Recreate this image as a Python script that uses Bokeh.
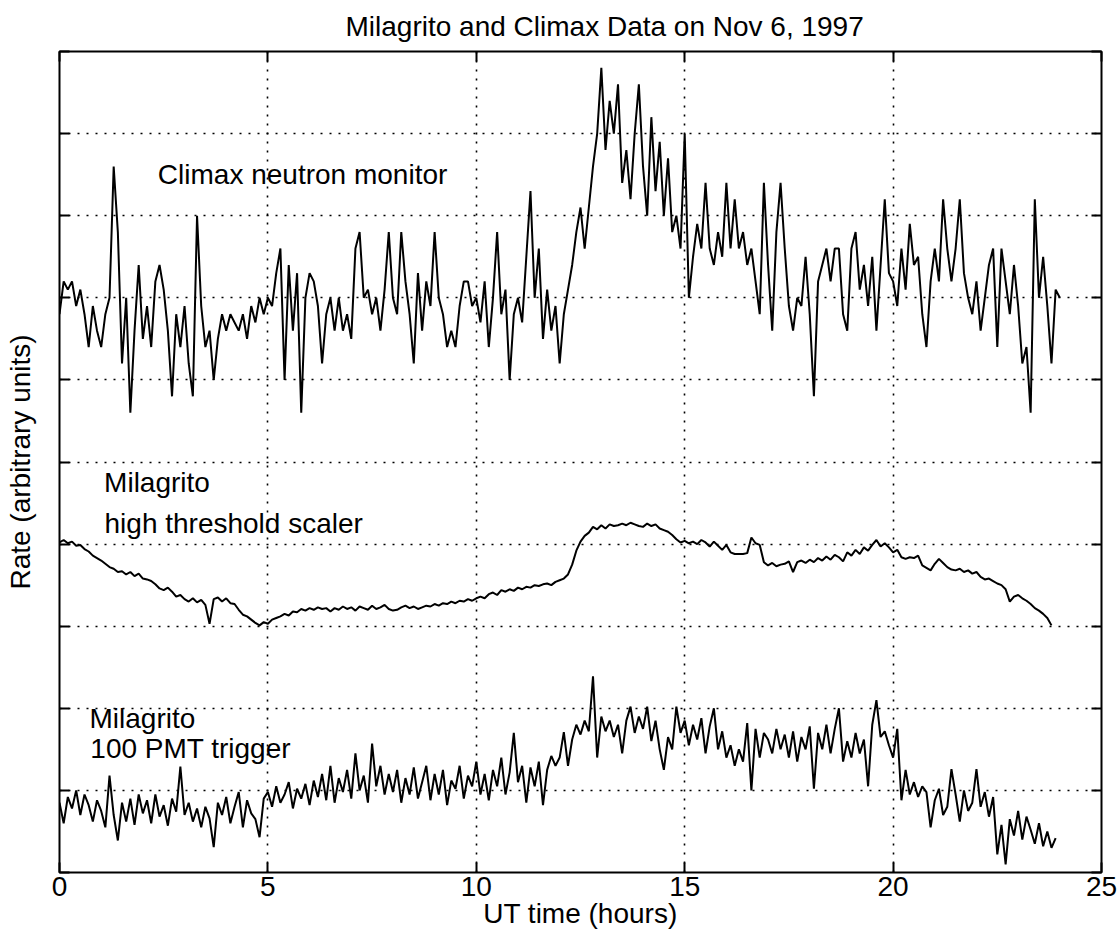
import numpy as np
from bokeh.plotting import figure
from bokeh.models import Range1d, FixedTicker, LinearAxis, Label, CustomLabelingPolicy
from bokeh.embed import file_html
from bokeh.resources import INLINE

# ---- data ----
STEP_H = 0.1  # sampling step of the series, hours

climax = [
    6.8, 7.2, 7.1, 7.2, 6.9, 7.1, 6.8, 6.4, 6.9, 6.6,
    6.4, 6.8, 7.0, 8.6, 7.8, 6.2, 7.0, 5.6, 6.6, 7.4,
    6.5, 6.9, 6.4, 7.2, 7.4, 7.1, 6.6, 5.8, 6.8, 6.4,
    6.9, 6.2, 5.8, 8.0, 6.9, 6.4, 6.6, 6.0, 6.5, 6.8,
    6.6, 6.8, 6.7, 6.6, 6.8, 6.5, 6.9, 6.7, 7.0, 6.8,
    7.0, 6.9, 7.3, 7.6, 6.0, 7.4, 6.6, 7.3, 5.6, 7.0,
    7.3, 7.2, 6.9, 6.2, 6.8, 7.0, 6.6, 7.0, 6.6, 6.8,
    6.5, 7.6, 7.8, 7.0, 7.1, 6.8, 7.0, 6.6, 7.1, 7.8,
    7.0, 6.8, 7.8, 7.2, 6.8, 6.2, 7.3, 6.6, 7.2, 6.9,
    7.8, 7.0, 6.8, 6.4, 6.6, 6.4, 6.9, 7.2, 7.2, 6.9,
    7.0, 6.7, 7.2, 6.4, 7.0, 7.8, 6.8, 7.1, 6.0, 6.8,
    7.0, 6.7, 7.5, 8.3, 7.0, 7.6, 6.5, 7.1, 6.6, 6.9,
    6.2, 6.8, 7.1, 7.4, 7.8, 8.1, 7.6, 8.1, 8.6, 9.0,
    9.8, 8.8, 9.4, 9.0, 9.6, 8.4, 8.8, 8.2, 9.0, 9.6,
    8.6, 8.0, 9.2, 8.3, 8.9, 8.0, 8.7, 7.8, 8.0, 7.6,
    9.0, 7.0, 7.5, 7.9, 7.6, 8.4, 7.6, 7.4, 7.8, 7.5,
    8.4, 7.6, 8.2, 7.6, 7.8, 7.4, 7.6, 7.2, 6.8, 8.4,
    7.4, 6.6, 7.8, 8.4, 7.6, 6.9, 6.6, 7.0, 6.9, 7.5,
    6.8, 5.8, 7.2, 7.4, 7.6, 7.2, 7.6, 7.6, 6.8, 6.6,
    7.6, 7.8, 7.1, 7.4, 6.9, 7.5, 6.6, 7.4, 8.2, 7.3,
    7.2, 6.9, 7.6, 7.1, 7.9, 7.4, 7.5, 6.8, 6.4, 7.2,
    7.6, 7.2, 8.2, 7.6, 7.2, 7.6, 8.2, 7.3, 7.0, 6.8,
    7.2, 6.6, 7.0, 7.4, 7.6, 6.4, 7.6, 7.2, 6.8, 7.4,
    6.9, 6.2, 6.4, 5.6, 8.2, 7.0, 7.5, 6.9, 6.2, 7.1,
    7.0,
]

high_threshold = [
    4.02, 4.05, 4.01, 4.03, 3.98, 3.99, 3.94, 3.91, 3.86, 3.83,
    3.80, 3.76, 3.72, 3.70, 3.66, 3.67, 3.63, 3.66, 3.61, 3.64,
    3.58, 3.57, 3.55, 3.51, 3.46, 3.44, 3.47, 3.42, 3.36, 3.38,
    3.33, 3.30, 3.34, 3.29, 3.32, 3.26, 3.03, 3.33, 3.35, 3.30,
    3.34, 3.28, 3.27, 3.20, 3.14, 3.12, 3.08, 3.04, 3.01, 3.05,
    3.03, 3.08, 3.10, 3.12, 3.15, 3.13, 3.18, 3.17, 3.21, 3.19,
    3.22, 3.20, 3.23, 3.21, 3.22, 3.18, 3.22, 3.20, 3.24, 3.21,
    3.23, 3.19, 3.24, 3.22, 3.20, 3.25, 3.21, 3.23, 3.26, 3.21,
    3.19, 3.20, 3.23, 3.25, 3.22, 3.24, 3.21, 3.23, 3.25, 3.24,
    3.27, 3.25, 3.28, 3.27, 3.30, 3.28, 3.31, 3.30, 3.33, 3.31,
    3.34, 3.36, 3.34, 3.39, 3.41, 3.38, 3.44, 3.42, 3.45, 3.43,
    3.47, 3.45, 3.48, 3.47, 3.50, 3.49, 3.51, 3.52, 3.50, 3.54,
    3.56, 3.58, 3.63, 3.75, 3.92, 4.03, 4.10, 4.14, 4.21, 4.18,
    4.23, 4.19, 4.24, 4.22, 4.23, 4.25, 4.23, 4.26, 4.24, 4.22,
    4.21, 4.25, 4.22, 4.24, 4.19, 4.17, 4.15, 4.11, 4.06, 4.02,
    4.04, 4.01, 4.03, 4.00, 4.05, 4.02, 3.97, 4.03, 3.98, 3.93,
    3.99, 3.90, 3.88, 3.88, 3.88, 3.89, 4.08, 4.01, 3.99, 3.78,
    3.74, 3.77, 3.73, 3.75, 3.76, 3.79, 3.66, 3.78, 3.80, 3.77,
    3.81, 3.78, 3.83, 3.80, 3.85, 3.81, 3.87, 3.84, 3.79, 3.90,
    3.86, 3.93, 3.88, 3.96, 3.92, 3.99, 4.05, 3.97, 4.01, 3.96,
    3.90, 3.93, 3.84, 3.82, 3.84, 3.83, 3.86, 3.74, 3.71, 3.68,
    3.76, 3.82, 3.77, 3.72, 3.69, 3.68, 3.70, 3.66, 3.68, 3.64,
    3.66, 3.60, 3.57, 3.58, 3.55, 3.52, 3.50, 3.45, 3.30, 3.36,
    3.38, 3.34, 3.31, 3.27, 3.22, 3.19, 3.15, 3.10, 3.01,
]

trigger = [
    0.85, 0.60, 0.92, 0.78, 1.00, 0.70, 0.95, 0.82, 0.62, 0.88,
    0.75, 0.55, 1.18, 0.70, 0.39, 0.85, 0.62, 0.90, 0.58, 0.95,
    0.72, 0.88, 0.60, 0.95, 0.68, 0.82, 0.57, 0.90, 0.74, 1.29,
    0.70, 0.85, 0.62, 0.78, 0.55, 0.80, 0.66, 0.31, 0.85, 0.70,
    0.92, 0.60, 0.80, 0.98, 0.55, 0.88, 0.72, 0.65, 0.43, 0.90,
    0.98, 0.80, 1.05, 0.85, 0.95, 1.10, 0.78, 1.02, 0.90, 1.08,
    0.82, 1.12, 0.92, 1.20, 0.88, 1.30, 0.85, 1.15, 0.98, 1.25,
    0.90, 1.45, 1.00, 1.18, 0.85, 1.57, 1.05, 1.30, 0.95, 1.20,
    0.98, 1.25, 0.85, 1.15, 0.95, 1.28, 0.90, 1.10, 1.30, 0.88,
    1.20, 0.95, 1.25, 0.82, 1.12, 1.02, 1.30, 0.90, 1.18, 1.05,
    1.35, 0.95, 1.20, 0.88, 1.25, 1.05, 1.40, 0.95, 1.22, 1.70,
    1.10, 1.30, 0.85, 1.28, 1.05, 1.35, 0.82, 1.25, 1.42, 1.30,
    1.40, 1.71, 1.30, 1.62, 1.80, 1.68, 1.85, 1.72, 2.39, 1.40,
    1.90, 1.72, 1.85, 1.65, 1.80, 1.45, 1.85, 2.02, 1.70, 1.90,
    1.75, 2.02, 1.60, 1.85, 1.50, 1.25, 1.65, 1.50, 2.02, 1.70,
    1.85, 1.55, 1.80, 1.62, 1.88, 1.45, 1.78, 2.00, 1.50, 1.72,
    1.40, 1.55, 1.30, 1.50, 1.35, 1.82, 1.00, 1.75, 1.40, 1.70,
    1.62, 1.45, 1.75, 1.50, 1.68, 1.40, 1.72, 1.35, 1.65, 1.50,
    1.78, 1.02, 1.70, 1.50, 1.80, 1.45, 1.75, 2.00, 1.35, 1.60,
    1.40, 1.70, 1.45, 1.62, 1.05, 1.80, 2.10, 1.65, 1.72, 1.55,
    1.40, 1.75, 0.88, 1.25, 0.95, 1.10, 0.92, 1.05, 0.98, 0.55,
    0.88, 1.02, 0.70, 0.80, 1.26, 0.95, 0.62, 1.00, 0.75, 0.85,
    1.26, 0.80, 0.98, 0.68, 0.92, 0.22, 0.58, 0.10, 0.65, 0.45,
    0.75, 0.40, 0.68, 0.52, 0.35, 0.60, 0.32, 0.50, 0.30, 0.42,
]

x_ticks = [0, 5, 10, 15, 20, 25]
y_ticks = [0, 1, 2, 3, 4, 5, 6, 7, 8, 9, 10]
title_text = "Milagrito and Climax Data on Nov 6, 1997"
x_label = "UT time (hours)"
y_label = "Rate (arbitrary units)"


def hours_for(vals):
    return [round(i * STEP_H, 2) for i in range(len(vals))]


FONT = "Liberation Sans"
FS = "28px"

# labeling policy that keeps no tick labels (ticks only, as in the reference)
NO_LABELS_JS = """
const out = indices.clone();
for (const i of Array.from(out.ones())) {
    if (typeof out.unset === "function") { out.unset(i) } else { out.set(i, false) }
}
return out;
"""

p = figure(frame_width=1042, frame_height=821,
           x_range=Range1d(0, 25), y_range=Range1d(0, 10),
           output_backend="svg", toolbar_location=None,
           min_border_left=59, min_border_right=19,
           min_border_top=51, min_border_bottom=64,
           title=title_text, x_axis_label=x_label, y_axis_label=y_label)

p.background_fill_color = "white"
p.border_fill_color = "white"
p.outline_line_color = "black"
p.outline_line_width = 2

# title
p.title.align = "left"
p.title.offset = 286
p.title.standoff = 12
p.title.text_font = FONT
p.title.text_font_size = FS
p.title.text_font_style = "normal"
p.title.text_color = "black"

# bottom axis
xa = p.xaxis[0]
xa.ticker = FixedTicker(ticks=x_ticks)
xa.axis_line_color = None
xa.major_tick_in = 10
xa.major_tick_out = 0
xa.minor_tick_in = 0
xa.minor_tick_out = 0
xa.major_tick_line_width = 2
xa.major_label_text_font = FONT
xa.major_label_text_font_size = FS
xa.major_label_text_color = "black"
xa.major_label_standoff = 4
xa.axis_label_text_font = FONT
xa.axis_label_text_font_size = FS
xa.axis_label_text_font_style = "normal"
xa.axis_label_text_color = "black"
xa.axis_label_standoff = -1

# left axis: ticks and title only
ya = p.yaxis[0]
ya.ticker = FixedTicker(ticks=y_ticks)
ya.axis_line_color = None
ya.major_tick_in = 10
ya.major_tick_out = 0
ya.minor_tick_in = 0
ya.minor_tick_out = 0
ya.major_tick_line_width = 2
ya.major_label_text_font_size = "1px"
ya.major_label_standoff = 0
ya.major_label_policy = CustomLabelingPolicy(code=NO_LABELS_JS)
ya.axis_label_text_font = FONT
ya.axis_label_text_font_size = FS
ya.axis_label_text_font_style = "normal"
ya.axis_label_text_color = "black"
ya.axis_label_standoff = 19

# mirrored ticks on top and right
for loc, tk in (("above", x_ticks), ("right", y_ticks)):
    ax = LinearAxis(ticker=FixedTicker(ticks=tk), axis_line_color=None,
                    major_tick_in=10, major_tick_out=0,
                    minor_tick_in=0, minor_tick_out=0,
                    major_tick_line_width=2,
                    major_label_text_font_size="1px", major_label_standoff=0,
                    major_label_policy=CustomLabelingPolicy(code=NO_LABELS_JS))
    p.add_layout(ax, loc)

# dotted grid
p.xgrid.ticker = FixedTicker(ticks=x_ticks[1:-1])
p.ygrid.ticker = FixedTicker(ticks=y_ticks[1:-1])
for g in (p.xgrid, p.ygrid):
    g.grid_line_color = "black"
    g.grid_line_alpha = 1.0
    g.grid_line_width = 1.6
    g.grid_line_dash = "2 7"

# series
for vals in (climax, high_threshold, trigger):
    p.line(hours_for(vals), vals, line_color="black", line_width=2)

# in-plot annotations (position of the text centre line)
notes = [
    (2.36, 8.50, "Climax neutron monitor"),
    (1.07, 4.75, "Milagrito"),
    (1.08, 4.25, "high threshold scaler"),
    (0.72, 1.87, "Milagrito"),
    (0.74, 1.51, "100 PMT trigger"),
]
for nx, ny, txt in notes:
    p.add_layout(Label(x=nx, y=ny, text=txt, text_font=FONT, text_font_size=FS,
                       text_color="black", text_baseline="middle",
                       text_align="left"))

open("out.html", "w").write(file_html(p, INLINE, "Milagrito and Climax Data"))
